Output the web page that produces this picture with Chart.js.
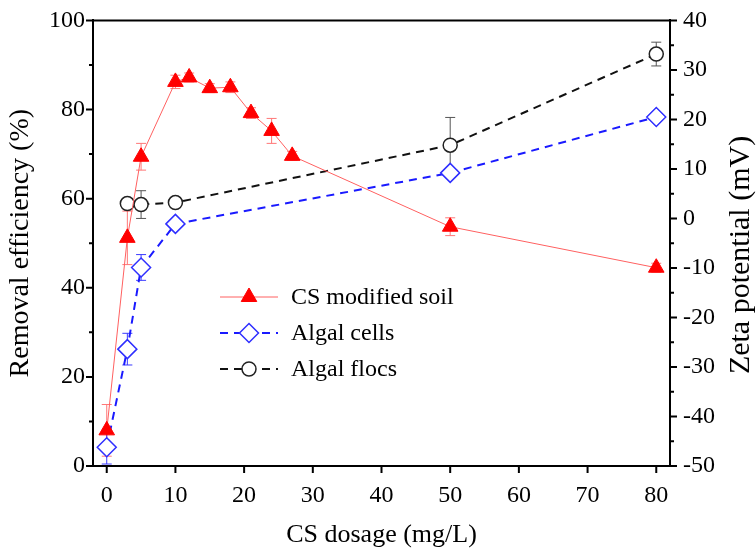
<!DOCTYPE html>
<html>
<head>
<meta charset="utf-8">
<script src="https://cdn.jsdelivr.net/npm/chart.js@4.4.1/dist/chart.umd.min.js"></script>
<style>
  html, body { margin: 0; padding: 0; background: #fff; }
  #wrap { width: 756px; height: 548px; }
</style>
</head>
<body>
<div id="wrap"><canvas id="chart" width="756" height="548"></canvas></div>
<script>
// CS modified soil -> removal efficiency (%)
const soilDose = [0, 3, 5, 10, 12, 15, 18, 21, 24, 27, 50, 80];
const removal = [8, 51.2, 69.4, 86.2, 87.2, 84.8, 85, 79.2, 75.2, 69.6, 53.7, 44.5];
const removalErr = [5.8, 6, 3, 1.5, 1, 1, 1.2, 1.2, 2.8, 1, 2, 1];

// Algal cells -> zeta potential (mV)
const cellDose = [0, 3, 5, 10, 50, 80];
const cellZeta = [-46.2, -26.4, -9.9, -1.1, 9.2, 20.5];
const cellErr = [3.4, 3.2, 2.6, 0.5, 0.8, 0.5];

// Algal flocs -> zeta potential (mV)
const flocDose = [3, 5, 10, 50, 80];
const flocZeta = [3.0, 2.8, 3.2, 14.8, 33.2];
const flocErr = [1, 2.8, 0.6, 5.6, 2.4];

const xTicks = [0, 10, 20, 30, 40, 50, 60, 70, 80];
const leftTicks = [0, 10, 20, 30, 40, 50, 60, 70, 80, 90, 100];
const rightTicks = [-50, -45, -40, -35, -30, -25, -20, -15, -10, -5, 0, 5, 10, 15, 20, 25, 30, 35, 40];

const serif = "'Liberation Serif', 'Times New Roman', serif";
Chart.defaults.font.family = serif;
Chart.defaults.color = '#000';

const pts = (xs, ys) => xs.map((x, i) => ({ x: x, y: ys[i] }));

const errColors = ['#ff7777', '#3a3aff', '#555555'];
const errValues = [removalErr, cellErr, flocErr];

const errorBars = {
  id: 'errorBars',
  beforeDatasetsDraw(chart) {
    const ctx = chart.ctx;
    const xs = chart.scales.x;
    chart.data.datasets.forEach((ds, di) => {
      const ys = chart.scales[ds.yAxisID];
      ctx.save();
      ctx.strokeStyle = errColors[di];
      ctx.lineWidth = 1;
      ds.data.forEach((p, i) => {
        const e = errValues[di][i];
        const px = xs.getPixelForValue(p.x);
        const t = ys.getPixelForValue(p.y + e);
        const b = ys.getPixelForValue(p.y - e);
        ctx.beginPath();
        ctx.moveTo(px, t); ctx.lineTo(px, b);
        ctx.moveTo(px - 5, t); ctx.lineTo(px + 5, t);
        ctx.moveTo(px - 5, b); ctx.lineTo(px + 5, b);
        ctx.stroke();
      });
      ctx.restore();
    });
  }
};

function drawMarker(ctx, style, r, x, y) {
  if (style === 'triangle') {
    for (let k = 0; k < 3; k++) {
      const ang = k * 2 * Math.PI / 3;
      const px = x + Math.sin(ang) * r, py = y - Math.cos(ang) * r;
      if (k === 0) ctx.moveTo(px, py); else ctx.lineTo(px, py);
    }
    ctx.closePath();
  } else if (style === 'rectRot') {
    ctx.moveTo(x, y - r); ctx.lineTo(x + r, y); ctx.lineTo(x, y + r); ctx.lineTo(x - r, y);
    ctx.closePath();
  } else {
    ctx.arc(x, y, r, 0, Math.PI * 2);
  }
}

const frame = {
  id: 'frame',
  afterDraw(chart) {
    const ctx = chart.ctx;
    const a = chart.chartArea;
    const sx = chart.scales.x, sl = chart.scales.y, sr = chart.scales.y2;
    ctx.save();
    ctx.strokeStyle = '#000';
    ctx.lineWidth = 2;
    ctx.beginPath();
    ctx.moveTo(a.left - 1, a.top); ctx.lineTo(a.right + 1, a.top);
    ctx.stroke();
    ctx.beginPath();
    xTicks.forEach(v => {
      const p = sx.getPixelForValue(v);
      ctx.moveTo(p, a.bottom); ctx.lineTo(p, a.bottom + 7);
    });
    leftTicks.forEach(v => {
      const p = sl.getPixelForValue(v);
      const len = v % 20 === 0 ? 7 : 4;
      ctx.moveTo(a.left, p); ctx.lineTo(a.left - len, p);
    });
    rightTicks.forEach(v => {
      const p = sr.getPixelForValue(v);
      const len = v % 10 === 0 ? 7 : 4;
      ctx.moveTo(a.right, p); ctx.lineTo(a.right + len, p);
    });
    ctx.stroke();

    // right axis title, reading bottom to top
    ctx.fillStyle = '#000';
    ctx.font = '30px ' + serif;
    ctx.textAlign = 'center';
    ctx.textBaseline = 'middle';
    ctx.translate(741, 255);
    ctx.rotate(-Math.PI / 2);
    ctx.fillText('Zeta potential (mV)', 0, 0);
    ctx.restore();

    // legend
    const rows = [
      { ds: chart.data.datasets[0], y: 297, dash: [] },
      { ds: chart.data.datasets[1], y: 333, dash: [8, 6] },
      { ds: chart.data.datasets[2], y: 369, dash: [8, 6] }
    ];
    ctx.save();
    rows.forEach(r => {
      ctx.strokeStyle = r.ds.borderColor;
      ctx.lineWidth = r.ds.borderWidth;
      ctx.setLineDash(r.dash);
      ctx.beginPath();
      ctx.moveTo(220, r.y); ctx.lineTo(278, r.y);
      ctx.stroke();
      ctx.setLineDash([]);
      ctx.fillStyle = r.ds.pointBackgroundColor;
      ctx.strokeStyle = r.ds.pointBorderColor;
      ctx.lineWidth = r.ds.pointBorderWidth;
      ctx.beginPath();
      drawMarker(ctx, r.ds.pointStyle, r.ds.pointRadius, 249, r.y);
      ctx.fill();
      ctx.stroke();
      ctx.fillStyle = '#000';
      ctx.font = '24px ' + serif;
      ctx.textAlign = 'left';
      ctx.textBaseline = 'middle';
      ctx.fillText(r.ds.label, 291, r.y + 1);
    });
    ctx.restore();
  }
};

new Chart(document.getElementById('chart'), {
  type: 'line',
  data: {
    datasets: [
      {
        label: 'CS modified soil',
        data: pts(soilDose, removal),
        yAxisID: 'y',
        borderColor: '#ff6060',
        borderWidth: 1,
        pointStyle: 'triangle',
        pointRadius: 9,
        pointBackgroundColor: '#ff0000',
        pointBorderColor: '#ff0000',
        pointBorderWidth: 1,
        tension: 0
      },
      {
        label: 'Algal cells',
        data: pts(cellDose, cellZeta),
        yAxisID: 'y2',
        borderColor: '#1a1aff',
        borderWidth: 2,
        borderDash: [8, 6],
        pointStyle: 'rectRot',
        pointRadius: 9.5,
        pointBackgroundColor: '#ffffff',
        pointBorderColor: '#2f2fff',
        pointBorderWidth: 1.5,
        tension: 0
      },
      {
        label: 'Algal flocs',
        data: pts(flocDose, flocZeta),
        yAxisID: 'y2',
        borderColor: '#111111',
        borderWidth: 2,
        borderDash: [8, 6],
        pointStyle: 'circle',
        pointRadius: 7,
        pointBackgroundColor: '#ffffff',
        pointBorderColor: '#222222',
        pointBorderWidth: 1.5,
        tension: 0
      }
    ]
  },
  options: {
    responsive: false,
    animation: false,
    layout: { padding: { top: 19, left: 0, right: 0, bottom: 0 } },
    plugins: {
      legend: { display: false },
      tooltip: { enabled: false }
    },
    scales: {
      x: {
        type: 'linear',
        min: -2,
        max: 82,
        afterBuildTicks: s => { s.ticks = xTicks.map(v => ({ value: v })); },
        afterFit: s => { s.height = 82; },
        grid: { display: false, drawTicks: true, tickLength: 7 },
        border: { display: true, color: '#000', width: 2 },
        ticks: { font: { size: 24 }, padding: 8, maxRotation: 0, autoSkip: false },
        title: { display: true, text: 'CS dosage (mg/L)', font: { size: 26, lineHeight: 1 }, padding: 0 }
      },
      y: {
        type: 'linear',
        position: 'left',
        min: 0,
        max: 100,
        afterBuildTicks: s => { s.ticks = leftTicks.map(v => ({ value: v })); },
        afterFit: s => { s.width = 93; },
        grid: { display: false, drawTicks: true, tickLength: 7 },
        border: { display: true, color: '#000', width: 2 },
        ticks: {
          font: { size: 24 }, padding: 1, autoSkip: false,
          callback: v => (v % 20 === 0 ? v : '')
        },
        title: { display: true, text: 'Removal efficiency (%)', font: { size: 28 }, padding: { top: 4, bottom: 0 } }
      },
      y2: {
        type: 'linear',
        position: 'right',
        min: -50,
        max: 40,
        afterBuildTicks: s => { s.ticks = rightTicks.map(v => ({ value: v })); },
        afterFit: s => { s.width = 86; },
        grid: { display: false, drawTicks: true, tickLength: 7 },
        border: { display: true, color: '#000', width: 2 },
        ticks: {
          font: { size: 24 }, padding: 6, autoSkip: false,
          callback: v => (v % 10 === 0 ? v : '')
        }
      }
    }
  },
  plugins: [errorBars, frame]
});
</script>
</body>
</html>
